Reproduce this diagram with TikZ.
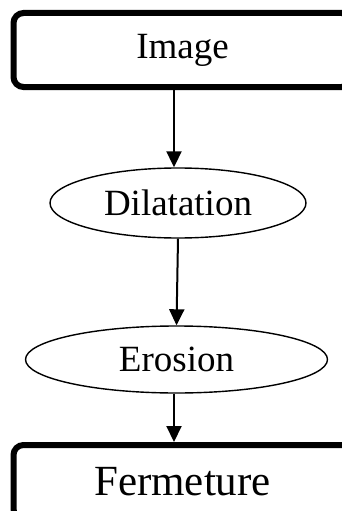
\documentclass[tikz,border=0pt]{standalone}
\usepackage{fontspec}
\setmainfont{Liberation Serif}
\usetikzlibrary{shapes.geometric,arrows.meta}
\tikzset{
  box/.style={draw, line width=6pt, rounded corners=10pt, minimum width=338pt, minimum height=74pt, inner sep=0pt, font=\fontsize{37pt}{44pt}\selectfont},
  oval/.style={draw, ellipse, line width=1.4pt, inner sep=0pt, font=\fontsize{37pt}{44pt}\selectfont},
  arr/.style={line width=2pt, -{Triangle[width=15pt,length=16pt]}}
}
\begin{document}
\begin{tikzpicture}[x=1pt,y=-1pt]
\useasboundingbox (0,0) rectangle (342,511);
\clip (0,0) rectangle (342,511);
\node[box] (img) at (182.5,50) {Image};
\node[oval, minimum width=256pt, minimum height=70pt] (dil) at (178,203) {Dilatation};
\node[oval, minimum width=302pt, minimum height=67pt] (ero) at (176.5,359.5) {Erosion};
\node[box, font=\fontsize{43pt}{50pt}\selectfont] (fer) at (182.5,482) {Fermeture};
\draw[arr] ([xshift=-8.5pt]img.south) -- ([xshift=-4pt]dil.north);
\draw[arr] (dil.south) -- (ero.north);
\draw[arr] ([xshift=-2.5pt]ero.south) -- ([xshift=-8.5pt]fer.north);
\end{tikzpicture}
\end{document}
